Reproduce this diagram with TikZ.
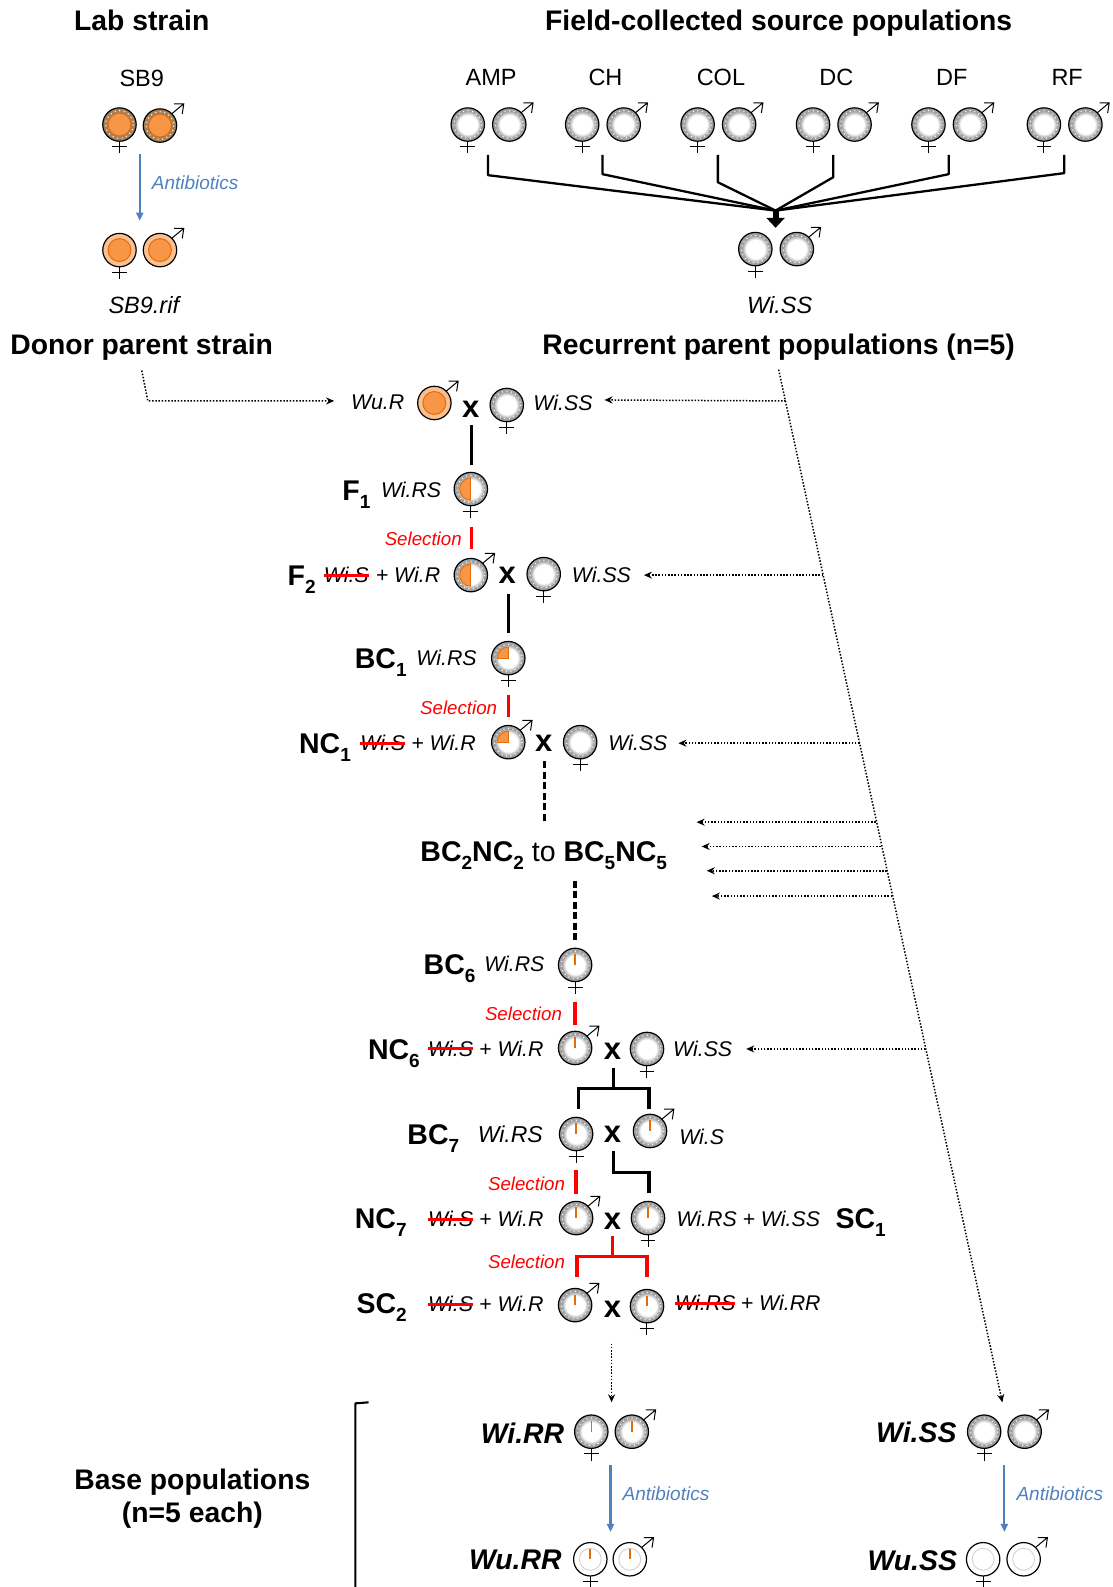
\documentclass[tikz,border=0pt]{standalone}
\usepackage{fontspec}
\setmainfont{Liberation Sans}
\usetikzlibrary{arrows.meta,calc}
\definecolor{orFill}{HTML}{F79646}
\definecolor{orLine}{HTML}{E36C0A}
\definecolor{orPale}{HTML}{FAC08F}
\definecolor{brownRing}{HTML}{A5825C}
\definecolor{ringGray}{HTML}{A0A0A0}
\definecolor{blueAb}{HTML}{4F81BD}
\definecolor{selRed}{HTML}{FF0000}
\pgfdeclareradialshading{ringsh}{\pgfpointorigin}{color(0bp)=(white);color(14bp)=(white);color(20bp)=(ringGray);color(50bp)=(ringGray)}
\newcommand\fs[1]{\fontsize{#1}{#1}\selectfont}
\newcommand\sbb[1]{\raisebox{-0.28em}{\fs{19}#1}}
\tikzset{
  every node/.style={inner sep=0pt,outer sep=0pt},
  title/.style={font=\fs{28.3}\bfseries,text height=20pt,text depth=0pt},
  gen/.style={font=\fs{28.5}\bfseries,text height=20.5pt,text depth=0pt},
  popname/.style={font=\fs{23.5}},
  popit/.style={font=\fs{23.5}\itshape},
  geno/.style={font=\fs{21.3}\itshape,text height=15pt,text depth=0pt},
  bigit/.style={font=\fs{28.4}\bfseries\itshape},
  crossx/.style={font=\fs{31}\bfseries},
  seltxt/.style={font=\fs{18.7}\itshape,text=selRed},
  abtxt/.style={font=\fs{19}\itshape,text=blueAb,anchor=west},
  ablink/.style={draw=blueAb,line width=2.1pt,-{Triangle[length=8pt,width=7pt]}},
  fan/.style={draw=black,line width=2.3pt,line join=round},
  bar/.style={draw=black,line width=3.3pt},
  barj/.style={draw=black,line width=3.2pt,line join=miter},
  redbar/.style={draw=selRed,line width=3.3pt},
  dashbar/.style={draw=black,line width=3.3pt,dash pattern=on 7pt off 3.5pt},
  strike/.style={draw=selRed,line width=3pt},
  dots/.style={draw=black,line width=1.5pt,dash pattern=on 1.5pt off 1.7pt,-{Stealth[length=8pt,width=7pt]}},
  sexline/.style={draw=black,line width=1pt},
  bracketl/.style={draw=black,line width=2.1pt},
}
% ---- cell interiors ----
\newcommand\dotsring{\draw[white,line width=1.1pt,dash pattern=on 1pt off 3.6pt] (0,0) circle[radius=13.6];}
\newcommand\outl{\draw[black,line width=1.2pt] (0,0) circle[radius=16.5];}
\newcommand\wSS{\shade[shading=ringsh] (0,0) circle[radius=16.5];\dotsring\outl}
\newcommand\wHalf{\wSS\begin{scope}\clip (-20,-20) rectangle (0,20);
  \draw[orLine,fill=orFill,line width=.9pt] (0,0) circle[radius=11];\end{scope}
  \draw[orLine,line width=.9pt] (0,-11)--(0,11);}
\newcommand\wQuart{\wSS\begin{scope}\clip (-20,-20) rectangle (0,0);
  \draw[orLine,fill=orFill,line width=.9pt] (0,0) circle[radius=11];\end{scope}
  \draw[orLine,line width=.9pt] (0,-11)--(0,0)--(-11,0);}
\newcommand\tick{\draw[orLine,line width=1.6pt] (0,-10.5)--(0,0);}
\newcommand\wTick{\wSS\tick}
\newcommand\wFree{\fill[white] (0,0) circle[radius=16.5];\draw[gray!35,line width=.9pt] (0,0) circle[radius=10.8];\outl}
\newcommand\wFreeT{\wFree\tick}
\newcommand\wBrown{\fill[brownRing] (0,0) circle[radius=16.5];\dotsring\draw[orLine,fill=orFill,line width=1pt] (0,0) circle[radius=11.3];\outl}
\newcommand\wRif{\fill[orPale] (0,0) circle[radius=16.5];\draw[orLine,fill=orFill,line width=1pt] (0,0) circle[radius=11.3];\outl}
% ---- sexed symbols ----
\newcommand\fem[4]{\begin{scope}[shift={(#2,#3)}]\coordinate (#1) at (0,0);#4
  \draw[sexline] (0,16.5)--(0,28.5) (-7.3,22)--(7.3,22);\end{scope}}
\newcommand\mal[4]{\begin{scope}[shift={(#2,#3)}]\coordinate (#1) at (0,0);#4
  \draw[sexline,line join=miter] (11.5,-11.5)--(23.5,-21.5) (14,-21.5)--(23.5,-21.5)--(22,-11.5);\end{scope}}
\begin{document}
\begin{tikzpicture}[x=1.0125pt,y=-1.0125pt]
\useasboundingbox (0,0) rectangle (1098.27,1567.4);
% titles
\node[title] (tLab) at (140,20) {Lab strain};
\node[title] (tField) at (769,20) {Field-collected source populations};
\node[title] (tDonor) at (140,340) {Donor parent strain};
\node[title] (tRec) at (769,340) {Recurrent parent populations (n=5)};
\node[popname] (pSB) at (140,77) {SB9};
\node[popname] (pAMP) at (485,76) {AMP};
\node[popname] (pCH) at (598,76) {CH};
\node[popname] (pCOL) at (712,76) {COL};
\node[popname] (pDC) at (826,76) {DC};
\node[popname] (pDF) at (940,76) {DF};
\node[popname] (pRF) at (1054,76) {RF};
% lab strain
\fem{sbF}{118}{123}{\wBrown}
\mal{sbM}{158}{124}{\wBrown}
\fem{rifF}{118}{247}{\wRif}
\mal{rifM}{158}{247}{\wRif}
\coordinate (ab1a) at (138,152); \coordinate (ab1b) at (138,218);
\draw[ablink] (ab1a)--(ab1b);
\node[abtxt] (ab1) at (150,180) {Antibiotics};
\node[popit] (lRif) at (142,301) {SB9.rif};
% field pairs
\fem{f1}{462}{123}{\wSS}\mal{m1}{503}{123}{\wSS}
\fem{f2}{575}{123}{\wSS}\mal{m2}{616}{123}{\wSS}
\fem{f3}{689}{123}{\wSS}\mal{m3}{730}{123}{\wSS}
\fem{f4}{803}{123}{\wSS}\mal{m4}{844}{123}{\wSS}
\fem{f5}{917}{123}{\wSS}\mal{m5}{958}{123}{\wSS}
\fem{f6}{1031}{123}{\wSS}\mal{m6}{1072}{123}{\wSS}
\coordinate (hub) at (766,208);
\coordinate (s1) at (482,153);\coordinate (s2) at (595,153);\coordinate (s3) at (709,153);
\coordinate (s4) at (823,153);\coordinate (s5) at (937,153);\coordinate (s6) at (1051,153);
\draw[fan] (s1)--(482,173)--(hub);
\draw[fan] (s2)--(595,172)--(hub);
\draw[fan] (s3)--(709,180)--(hub);
\draw[fan] (s4)--(823,175)--(hub);
\draw[fan] (s5)--(937,172)--(hub);
\draw[fan] (s6)--(1051,171)--(hub);
\coordinate (hubEnd) at (766,225);
\draw[draw=black,line width=6pt,-{Triangle[length=10pt,width=18pt]}] (hub)--(hubEnd);
\fem{wiF}{746}{246}{\wSS}\mal{wiM}{787}{246}{\wSS}
\node[popit] (lWi) at (770,301) {Wi.SS};
% main dotted lines
\coordinate (dS) at (140,366);\coordinate (dE) at (330,396);
\draw[dots] (dS)--(146,396)--(dE);
\coordinate (rpS) at (769,365);\coordinate (rpE) at (990,1385);
\draw[dots] (rpS)--(rpE);
\coordinate (h1a) at (776,396);\coordinate (h1b) at (597,395);\draw[dots] (h1a)--(h1b);
\coordinate (h2a) at (813,568);\coordinate (h2b) at (636,568);\draw[dots] (h2a)--(h2b);
\coordinate (h3a) at (849,734);\coordinate (h3b) at (670,734);\draw[dots] (h3a)--(h3b);
\coordinate (h4a) at (865,812);\coordinate (h4b) at (688,812);\draw[dots] (h4a)--(h4b);
\coordinate (h5a) at (870,836);\coordinate (h5b) at (693,836);\draw[dots] (h5a)--(h5b);
\coordinate (h6a) at (876,860);\coordinate (h6b) at (698,860);\draw[dots] (h6a)--(h6b);
\coordinate (h7a) at (881,885);\coordinate (h7b) at (703,885);\draw[dots] (h7a)--(h7b);
\coordinate (h8a) at (914,1036);\coordinate (h8b) at (737,1036);\draw[dots] (h8a)--(h8b);
% P cross
\node[geno] (gWuR) at (373,397) {Wu.R};
\mal{pM}{429}{398}{\wRif}
\node[crossx] (x0) at (465,404) {x};
\fem{pF}{500.5}{400}{\wSS}
\node[geno] (gP) at (556,398) {Wi.SS};
\coordinate (b0a) at (466,420);\coordinate (b0b) at (466,459);\draw[bar] (b0a)--(b0b);
% F1
\node[gen] (F1) at (352,484) {F\sbb{1}};
\node[geno] (gF1) at (406,484) {Wi.RS};
\fem{F1f}{465}{483}{\wHalf}
\node[seltxt] (sel1) at (418,532) {Selection};
\coordinate (r1a) at (466,520);\coordinate (r1b) at (466,542);\draw[redbar] (r1a)--(r1b);
% F2
\node[gen] (F2) at (298,568) {F\sbb{2}};
\node[geno] (gF2s) at (342,568) {Wi.S};
\draw[strike] (gF2s.west)--(gF2s.east);
\node[geno] (gF2r) at (403,568) {+ Wi.R};
\mal{F2m}{465}{568}{\wHalf}
\node[crossx] (x1) at (501,568.5) {x};
\fem{F2f}{537}{567}{\wSS}
\node[geno] (gF2) at (594,568) {Wi.SS};
\coordinate (b1a) at (502,587);\coordinate (b1b) at (502,625);\draw[bar] (b1a)--(b1b);
% BC1
\node[gen] (BC1) at (376,650) {BC\sbb{1}};
\node[geno] (gBC1) at (441,650) {Wi.RS};
\fem{BC1f}{502}{650}{\wQuart}
\node[seltxt] (sel2) at (453,699) {Selection};
\coordinate (r2a) at (502,686);\coordinate (r2b) at (502,708);\draw[redbar] (r2a)--(r2b);
% NC1
\node[gen] (NC1) at (321,734) {NC\sbb{1}};
\node[geno] (gNC1s) at (378,734) {Wi.S};
\draw[strike] (gNC1s.west)--(gNC1s.east);
\node[geno] (gNC1r) at (438,734) {+ Wi.R};
\mal{NC1m}{502}{733}{\wQuart}
\node[crossx] (x2) at (537,734) {x};
\fem{NC1f}{573}{733}{\wSS}
\node[geno] (gNC1) at (630,734) {Wi.SS};
\coordinate (d1a) at (538,752);\coordinate (d1b) at (538,812);\draw[dashbar] (d1a)--(d1b);
% middle
\node[font=\fs{28.5},text height=20.5pt,text depth=0pt] (mid) at (537,841) {\textbf{BC\sbb{2}NC\sbb{2}} to \textbf{BC\sbb{5}NC\sbb{5}}};
\coordinate (d2a) at (568,870);\coordinate (d2b) at (568,930);\draw[dashbar] (d2a)--(d2b);
% BC6
\node[gen] (BC6) at (444,952) {BC\sbb{6}};
\node[geno] (gBC6) at (508,952) {Wi.RS};
\fem{BC6f}{568}{953}{\wTick}
\node[seltxt] (sel3) at (517,1001) {Selection};
\coordinate (r3a) at (568,990);\coordinate (r3b) at (568,1012);\draw[redbar] (r3a)--(r3b);
% NC6
\node[gen] (NC6) at (389,1036) {NC\sbb{6}};
\node[geno] (gNC6s) at (445,1036) {Wi.S};
\draw[strike] (gNC6s.west)--(gNC6s.east);
\node[geno] (gNC6r) at (505,1036) {+ Wi.R};
\mal{NC6m}{568}{1035}{\wTick}
\node[crossx] (x3) at (605,1038) {x};
\fem{NC6f}{639}{1036}{\wSS}
\node[geno] (gNC6) at (694,1036) {Wi.SS};
\coordinate (k1) at (606,1055);\coordinate (k1m) at (606,1075);
\coordinate (k1l) at (571,1095);\coordinate (k1r) at (641,1095);
\draw[barj] (k1)--(k1m);
\draw[barj] (k1l)--(571,1075)--(641,1075)--(k1r);
% BC7
\node[gen] (BC7) at (428,1120) {BC\sbb{7}};
\node[geno,font=\fs{23}\itshape] (gBC7) at (504,1121) {Wi.RS};
\fem{BC7f}{569}{1120}{\wTick}
\node[crossx] (x4) at (605,1120) {x};
\mal{BC7m}{642}{1117}{\wTick}
\node[geno] (gBC7m) at (693,1123) {Wi.S};
\coordinate (k2a) at (606,1137);\coordinate (k2b) at (641,1178);
\draw[barj] (k2a)--(606,1158)--(641,1158)--(k2b);
\node[seltxt] (sel4) at (520,1169) {Selection};
\coordinate (r4a) at (569,1156);\coordinate (r4b) at (569,1179);\draw[redbar] (r4a)--(r4b);
% NC7
\node[gen] (NC7) at (376,1203) {NC\sbb{7}};
\node[geno] (gNC7s) at (445,1204) {Wi.S};
\draw[strike] (gNC7s.west)--(gNC7s.east);
\node[geno] (gNC7r) at (505,1204) {+ Wi.R};
\mal{NC7m}{569}{1203}{\wTick}
\node[crossx] (x5) at (605,1206) {x};
\fem{NC7f}{640}{1203}{\wTick}
\node[geno] (gSC1) at (739,1204) {Wi.RS + Wi.SS};
\node[gen] (SC1) at (850,1203) {SC\sbb{1}};
\coordinate (k3) at (605,1221);\coordinate (k3m) at (605,1241);
\coordinate (k3l) at (570,1261);\coordinate (k3r) at (639,1261);
\draw[redbar] (k3)--(k3m);
\draw[redbar,line join=miter] (k3l)--(570,1241)--(639,1241)--(k3r);
\node[seltxt] (sel5) at (520,1246) {Selection};
% SC2
\node[gen] (SC2) at (377,1287) {SC\sbb{2}};
\node[geno] (gSC2s) at (445,1288) {Wi.S};
\draw[strike] (gSC2s.west)--(gSC2s.east);
\node[geno] (gSC2r) at (505,1288) {+ Wi.R};
\mal{SC2m}{568}{1289}{\wTick}
\node[crossx] (x6) at (605,1293) {x};
\fem{SC2f}{639}{1290}{\wTick}
\node[geno] (gSC2x) at (696.5,1287) {Wi.RS};
\draw[strike] (gSC2x.west)--(gSC2x.east);
\node[geno] (gSC2y) at (771,1287) {+ Wi.RR};
\coordinate (d3a) at (604,1327);\coordinate (d3b) at (604,1385);\draw[dots] (d3a)--(d3b);
% base populations
\node[bigit] (WiRR) at (516,1415) {Wi.RR};
\fem{RRf}{584}{1414}{\wTick}\mal{RRm}{624}{1414}{\wTick}
\coordinate (ab2a) at (603,1447);\coordinate (ab2b) at (603,1513);\draw[ablink] (ab2a)--(ab2b);
\node[abtxt] (ab2) at (615,1475) {Antibiotics};
\node[bigit] (WuRR) at (509,1541) {Wu.RR};
\fem{RRfw}{583}{1540}{\wFreeT}\mal{RRmw}{622}{1540}{\wFreeT}
\node[bigit] (WiSS) at (905,1415) {Wi.SS};
\fem{SSf}{972}{1414}{\wSS}\mal{SSm}{1012}{1414}{\wSS}
\coordinate (ab3a) at (992,1447);\coordinate (ab3b) at (992,1513);\draw[ablink] (ab3a)--(ab3b);
\node[abtxt] (ab3) at (1004,1475) {Antibiotics};
\node[bigit] (WuSS) at (901,1541) {Wu.SS};
\fem{SSfw}{971}{1540}{\wFree}\mal{SSmw}{1011}{1540}{\wFree}
% bracket and caption
\coordinate (brA) at (364,1385);\coordinate (brB) at (351,1568);
\draw[bracketl,line join=round] (brA)--(351,1386)--(brB);
\node[title] (base1) at (190,1461) {Base populations};
\node[title] (base2) at (190,1494) {(n=5 each)};
\end{tikzpicture}
\end{document}
